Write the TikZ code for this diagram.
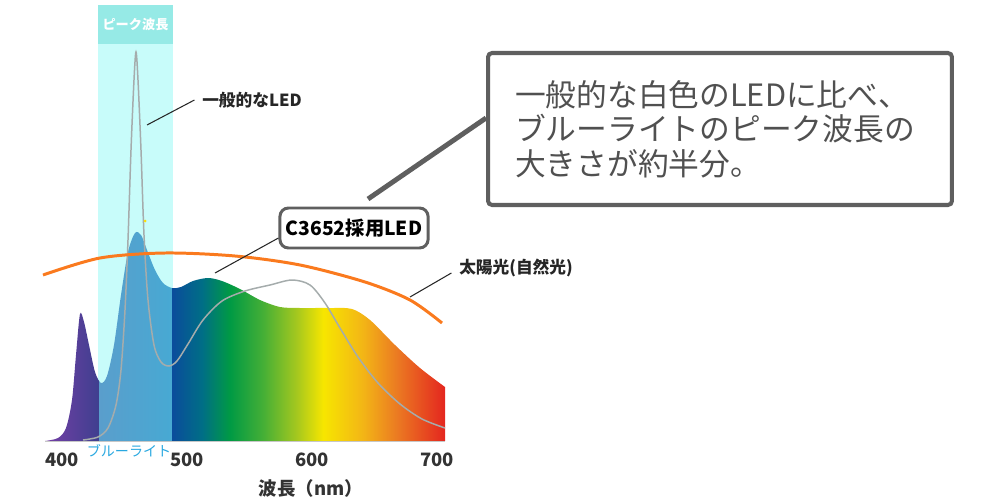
\documentclass[tikz,border=0pt]{standalone}
\usepackage{fontspec}
\setmainfont{Noto Sans CJK JP}
\usepackage{tikz}

\definecolor{bandcyan}{HTML}{C8FCFA}
\definecolor{bandhead}{HTML}{96EAE6}
\definecolor{bluelight}{HTML}{29A8E0}
\definecolor{sunorange}{HTML}{FA7A1E}
\definecolor{ledgray}{HTML}{A5ACAC}
\definecolor{boxgray}{HTML}{5F5F5F}
\definecolor{textgray}{HTML}{505050}
\definecolor{violetl}{HTML}{7A3FA8}
\definecolor{violetr}{HTML}{3F3F8F}
\definecolor{bandl}{HTML}{5A9ECC}
\definecolor{bandr}{HTML}{47A9D3}
\definecolor{sp1}{HTML}{0A4C9C}
\definecolor{sp2}{HTML}{006E86}
\definecolor{sp3}{HTML}{009A44}
\definecolor{sp4}{HTML}{45AF36}
\definecolor{sp5}{HTML}{A6C81E}
\definecolor{sp6}{HTML}{F7E600}
\definecolor{sp7}{HTML}{F3B516}
\definecolor{sp8}{HTML}{EB7A22}
\definecolor{sp9}{HTML}{E4261F}

\pgfdeclarehorizontalshading{visible}{100bp}{color(0bp)=(sp1); color(25bp)=(sp1);
  color(30.5bp)=(sp2); color(35.6bp)=(sp3); color(41.7bp)=(sp4); color(47.9bp)=(sp5);
  color(52.7bp)=(sp6); color(60bp)=(sp7); color(66.2bp)=(sp8); color(75bp)=(sp9);
  color(100bp)=(sp9)}

\tikzset{
  labeltext/.style={font=\fontsize{9.5}{10}\selectfont\bfseries, text=black!85, inner sep=0.15cm},
  ticklabel/.style={font=\fontsize{10.5}{11}\selectfont\bfseries, text=black!80},
  leader/.style={draw=black!85, line width=0.6pt},
  ledbox/.style={draw=boxgray, line width=1.7pt, fill=white, rounded corners=0.17cm,
    minimum width=2.96cm, minimum height=0.8cm, font=\fontsize{11}{12}\selectfont\bfseries},
  notebox/.style={draw=boxgray, line width=2.3pt, fill=white, rounded corners=0.08cm,
    minimum width=9.28cm, minimum height=3.04cm, text width=8.2cm, inner xsep=0.54cm,
    align=left, text=textgray, font=\fontsize{17.5}{19.6}\selectfont},
  pointer/.style={draw=boxgray, line width=2.8pt}
}

\begin{document}
\begin{tikzpicture}[x=0.02cm,y=-0.02cm]
  \useasboundingbox (0,0) rectangle (1000,500);

  % blue light band
  \fill[bandhead] (98,5) rectangle (173,44);
  \fill[bandcyan] (98,44) rectangle (173,441);
  \node[font=\fontsize{7.5}{8}\selectfont\bfseries, text=white] (peakhead) at (135.5,24) {ピーク波長};

  % C3652 spectrum
  \begin{scope}
    \clip plot[smooth,tension=0.5] coordinates {(45,441) (58,438) (66,428) (72,400)
      (76,355) (80,314) (84,322) (89,345) (95,372) (101,383) (107,376) (114,345)
      (121,295) (128,252) (135,233) (141,235) (147,250) (155,270) (163,283)
      (172,288) (181,287) (193,281) (208,278) (222,281) (240,289) (260,300)
      (280,307) (300,308) (330,308) (352,309) (370,320) (395,345) (420,368)
      (445,387)} -- (445,441) -- cycle;
    \shade[left color=violetl, right color=violetr] (40,200) rectangle (99,445);
    \shade[left color=bandl, right color=bandr] (99,200) rectangle (172,445);
    \shade[shading=visible] (172,200) rectangle (445,445);
  \end{scope}
  \draw[black!22, line width=0.9pt] (45,441.5) -- (445,441.5);

  % usual white LED
  \draw[ledgray, line width=0.85pt] plot[smooth,tension=0.5] coordinates {(83,440)
    (98,437) (108,428) (116,405) (121,370) (125,310) (128,240) (131,150) (134,80)
    (136,52) (138,80) (141,150) (144,235) (148,300) (154,345) (161,362) (169,366)
    (177,361) (188,344) (203,320) (222,301) (245,291) (270,285) (292,280)
    (310,285) (325,303) (340,328) (358,357) (378,383) (400,404) (422,419)
    (445,428)};
  \fill[yellow!80!orange] (145,221) circle (1.5);

  % sunlight
  \draw[sunorange, line width=1.7pt] plot[smooth] coordinates {(43,275) (100,258)
    (165,253) (235,256) (300,265) (365,282) (410,300) (442,323)};

  % axis labels
  \node[ticklabel] (t400) at (62,460) {400};
  \node[ticklabel] (t500) at (187,460) {500};
  \node[ticklabel] (t600) at (312,460) {600};
  \node[ticklabel] (t700) at (437,460) {700};
  \node[font=\fontsize{8}{9}\selectfont, text=bluelight] (bluelabel) at (129,451) {ブルーライト};
  \node[ticklabel] (axistitle) at (311,488) {波長（nm）};

  % labels and leaders
  \node[labeltext] (genled) at (252,100) {一般的なLED};
  \coordinate (genledtip) at (147,125);
  \draw[leader] (genledtip) -- (genled.west);

  \node[ledbox] (c3652) at (354,228) {C3652採用LED};
  \coordinate (c3652tip) at (215,273);
  \draw[leader] (c3652tip) -- ([yshift=-0.2cm]c3652.west);

  \node[labeltext] (sunlight) at (516,268) {太陽光(自然光)};
  \coordinate (suntip) at (410,297);
  \draw[leader] (suntip) -- ([yshift=-0.1cm]sunlight.west);

  % note
  \coordinate (notetip) at (368,199);
  \node[notebox] (note) at (720,129) {一般的な白色のLEDに比べ、\\ブルーライトのピーク波長の\\大きさが約半分。};
  \draw[pointer] (notetip) -- ([yshift=0.22cm]note.west);

\end{tikzpicture}
\end{document}
